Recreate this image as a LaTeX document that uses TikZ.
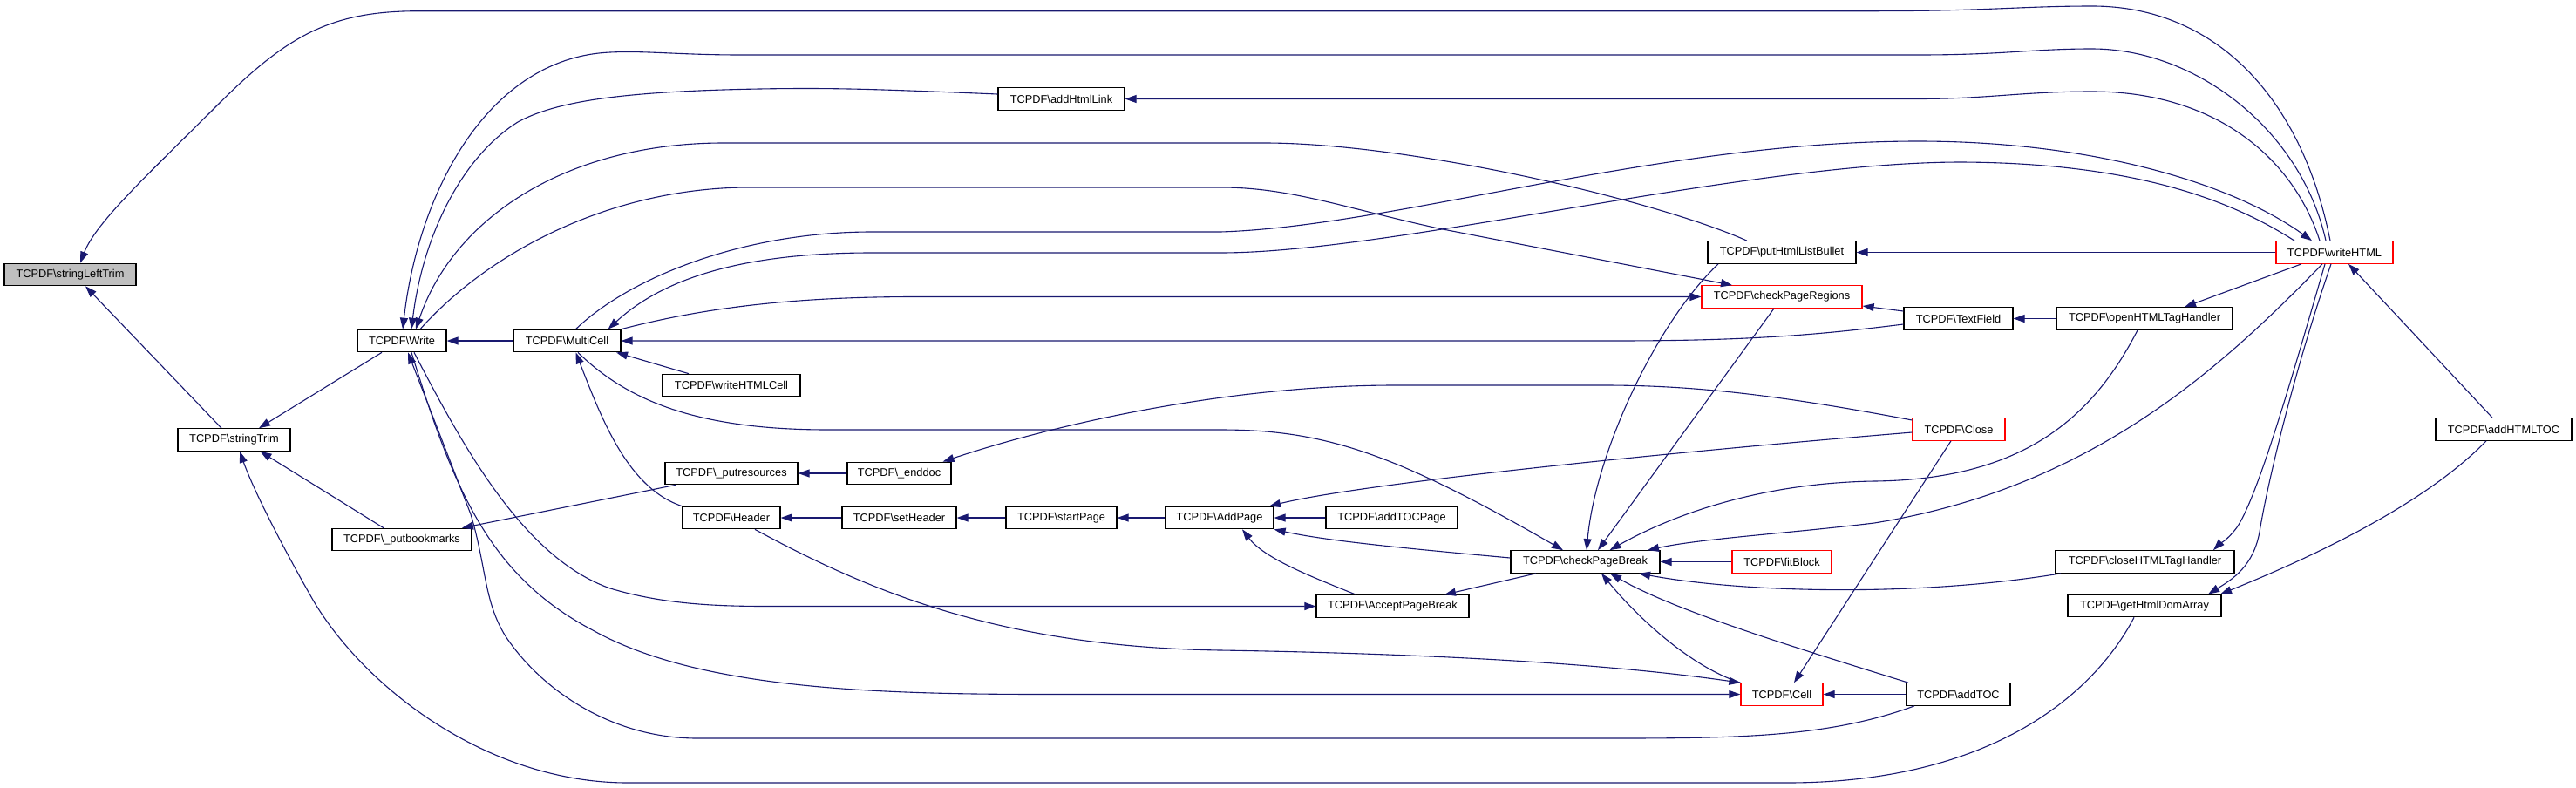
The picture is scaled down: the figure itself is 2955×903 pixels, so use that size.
\documentclass[tikz,border=0pt]{standalone}
\usepackage{fontspec}
\setmainfont{Liberation Sans}
\usetikzlibrary{arrows.meta}
\definecolor{navyedge}{HTML}{191970}
\definecolor{grayfill}{HTML}{BFBFBF}
\newcommand{\tbs}{\textbackslash}
\begin{document}
\begin{tikzpicture}[x=1pt,y=-1pt,
  fn/.style={draw=black, line width=1.2pt, fill=white, minimum height=25.5pt, inner sep=0pt, font=\fontsize{12.8}{14}\selectfont},
  fnred/.style={fn, draw=red},
  ce/.style={draw=navyedge, line width=1.1pt, -{Triangle[length=13pt,width=9pt]}, fill=none},
  ce/.append style={arrows={-{Triangle[length=13pt,width=9pt,fill=navyedge]}}}]
\path[use as bounding box, fill=white] (0,0) rectangle (2955,903);

% nodes
\node[fn, fill=grayfill, minimum width=151pt] (slt) at (80.5,315) {TCPDF\tbs stringLeftTrim};
\node[fn, minimum width=129pt] (st) at (268.5,504.5) {TCPDF\tbs stringTrim};
\node[fn, minimum width=102pt] (wr) at (461,391) {TCPDF\tbs Write};
\node[fn, minimum width=123pt] (mc) at (650.5,391) {TCPDF\tbs MultiCell};
\node[fn, minimum width=158pt] (whc) at (839,442) {TCPDF\tbs writeHTMLCell};
\node[fn, minimum width=160pt] (pbm) at (461,619) {TCPDF\tbs\_putbookmarks};
\node[fn, minimum width=152pt] (pres) at (839,543) {TCPDF\tbs\_putresources};
\node[fn, minimum width=119pt] (edoc) at (1031.5,543) {TCPDF\tbs\_enddoc};
\node[fn, minimum width=112pt] (hdr) at (839,594) {TCPDF\tbs Header};
\node[fn, minimum width=131pt] (shdr) at (1031.5,594) {TCPDF\tbs setHeader};
\node[fn, minimum width=127pt] (spg) at (1217.5,594) {TCPDF\tbs startPage};
\node[fn, minimum width=124pt] (apg) at (1399,594) {TCPDF\tbs AddPage};
\node[fn, minimum width=151pt] (atp) at (1596.5,594) {TCPDF\tbs addTOCPage};
\node[fn, minimum width=175pt] (apb) at (1597.5,695.5) {TCPDF\tbs AcceptPageBreak};
\node[fn, minimum width=171pt] (cpb) at (1818.5,644.5) {TCPDF\tbs checkPageBreak};
\node[fn, minimum width=145pt] (ahl) at (1217.5,113.5) {TCPDF\tbs addHtmlLink};
\node[fn, minimum width=170pt] (phlb) at (2044,289.5) {TCPDF\tbs putHtmlListBullet};
\node[fnred, minimum width=184pt] (cpr) at (2044,340.5) {TCPDF\tbs checkPageRegions};
\node[fn, minimum width=125pt] (tf) at (2246.5,365.5) {TCPDF\tbs TextField};
\node[fn, minimum width=202pt] (ohth) at (2460,365.5) {TCPDF\tbs openHTMLTagHandler};
\node[fnred, minimum width=134pt] (wh) at (2678,289.5) {TCPDF\tbs writeHTML};
\node[fnred, minimum width=106pt] (cls) at (2247,492.5) {TCPDF\tbs Close};
\node[fn, minimum width=156pt] (ahtoc) at (2872,492.5) {TCPDF\tbs addHTMLTOC};
\node[fnred, minimum width=114pt] (fit) at (2044,644.5) {TCPDF\tbs fitBlock};
\node[fn, minimum width=205pt] (chth) at (2460.5,644.5) {TCPDF\tbs closeHTMLTagHandler};
\node[fn, minimum width=176pt] (ghda) at (2460,695) {TCPDF\tbs getHtmlDomArray};
\node[fnred, minimum width=94pt] (cell) at (2044,796.5) {TCPDF\tbs Cell};
\node[fn, minimum width=119pt] (atoc) at (2246.5,796.5) {TCPDF\tbs addTOC};

% edges (caller -> callee)
\draw[ce] ([xshift=-14.5pt]st.north) -- ([xshift=17.5pt]slt.south);
\draw[ce] ([xshift=-5pt]wh.north) .. controls (2640,110) and (2540,7) .. (2400,7) .. controls (2320,7) and (2280,12.7) .. (2150,12.7) -- (480,12.7) .. controls (380,12.7) and (330,40) .. (250,120) .. controls (170,200) and (110,255) .. ([xshift=11.5pt]slt.north);
\draw[ce] ([xshift=-23pt]wr.south) -- ([xshift=28.5pt]st.north);
\draw[ce] ([xshift=-21pt]pbm.north) -- ([xshift=30pt]st.south);
\draw[ce] ([xshift=-12pt]ghda.south) .. controls (2400,800) and (2280,898) .. (2050,898) -- (720,898) .. controls (560,898) and (420,790) .. (360,690) .. controls (320,620) and (290,560) .. ([xshift=6.5pt]st.south);
\draw[ce] (mc.west) -- (wr.east);
\draw[ce] ([xshift=-10pt]wh.north) .. controls (2640,150) and (2520,56) .. (2400,56) .. controls (2330,56) and (2300,63) .. (2200,63) -- (850,63) .. controls (780,63) and (740,58) .. (700,60) .. controls (560,66) and (480,220) .. ([xshift=1pt]wr.north);
\draw[ce] ([yshift=5.5pt]ahl.west) .. controls (1000,102) and (960,101) .. (890,101.7) .. controls (720,104) and (640,115) .. (594,140) .. controls (530,180) and (485,270) .. ([xshift=11pt]wr.north);
\draw[ce] ([xshift=-40pt]phlb.north) .. controls (1900,230) and (1620,164) .. (1450,164) -- (830,164) .. controls (650,164) and (520,250) .. ([xshift=16pt]wr.north);
\draw[ce] ([xshift=21pt]wr.north) .. controls (560,290) and (700,215) .. (860,215) -- (1400,215) .. controls (1480,215) and (1540,238) .. (1650,262) -- ([xshift=-57pt]cpr.north);
\draw[ce] ([xshift=14pt]wr.south) .. controls (530,510) and (600,640) .. (700,675) .. controls (760,693) and (820,695.5) .. (880,695.5) -- (apb.west);
\draw[ce] ([xshift=11pt]wr.south) .. controls (520,560) and (560,660) .. (680,723) .. controls (800,790) and (1000,796.5) .. (1200,796.5) -- (cell.west);
\draw[ce] ([xshift=-50.5pt]atoc.south) .. controls (2100,845) and (2000,847) .. (1850,847) -- (800,847) .. controls (700,847) and (620,790) .. (580,730) .. controls (555,690) and (558,650) .. (540,590) -- ([xshift=7pt]wr.south);
\draw[ce] ([yshift=10.5pt]cls.west) .. controls (2050,455) and (1950,442) .. (1840,442) -- (1600,442) .. controls (1400,442) and (1200,490) .. ([xshift=50pt]edoc.north);
\draw[ce] ([yshift=-3.5pt]cls.west) .. controls (1900,520) and (1560,555) .. ([xshift=57pt]apg.north);
\draw[ce] ([xshift=-9pt]cls.south) -- ([xshift=14pt]cell.north);
\draw[ce] (edoc.west) -- (pres.east);
\draw[ce] ([xshift=-64pt]pres.south) -- ([xshift=69pt]pbm.north);
\draw[ce] (hdr.north west) .. controls (720,560) and (690,480) .. ([xshift=10pt]mc.south);
\draw[ce] ([xshift=27pt]hdr.south) .. controls (1000,680) and (1150,742) .. (1400,746) .. controls (1650,750) and (1850,762) .. (cell.north west);
\draw[ce] (shdr.west) -- (hdr.east);
\draw[ce] (spg.west) -- (shdr.east);
\draw[ce] (apg.west) -- (spg.east);
\draw[ce] (atp.west) -- (apg.east);
\draw[ce] ([xshift=-42pt]apb.north) .. controls (1500,660) and (1450,640) .. ([xshift=26pt]apg.south);
\draw[ce] ([yshift=4.5pt]cpb.west) .. controls (1600,628) and (1520,620) .. (apg.south east);
\draw[ce] ([xshift=-56.5pt]cpb.south) -- ([xshift=59.5pt]apb.north);
\draw[ce] ([xshift=12.5pt]mc.south) .. controls (720,460) and (800,493) .. (950,493) -- (1400,493) .. controls (1520,493) and (1600,520) .. ([xshift=-25.5pt]cpb.north);
\draw[ce] ([xshift=-9pt]cpr.south) -- ([xshift=14.5pt]cpb.north);
\draw[ce] ([xshift=-73pt]phlb.south) .. controls (1900,370) and (1830,520) .. ([xshift=1.5pt]cpb.north);
\draw[ce] ([xshift=-8pt]ohth.south) .. controls (2400,480) and (2320,550) .. (2150,552) .. controls (2020,554) and (1920,590) .. ([xshift=28pt]cpb.north);
\draw[ce] ([xshift=-14pt]wh.south) .. controls (2550,420) and (2400,560) .. (2150,600) .. controls (2050,612) and (1950,618) .. ([xshift=71.5pt]cpb.north);
\draw[ce] (fit.west) -- (cpb.east);
\draw[ce] ([xshift=-96.5pt]chth.south) .. controls (2200,685) and (2000,680) .. ([xshift=61.5pt]cpb.south);
\draw[ce] (cell.north west) .. controls (1940,765) and (1880,710) .. ([xshift=18.5pt]cpb.south);
\draw[ce] ([xshift=-57.5pt]atoc.north) .. controls (2050,740) and (1920,700) .. ([xshift=28.5pt]cpb.south);
\draw[ce] (atoc.west) -- (cell.east);
\draw[ce] ([xshift=-49pt]whc.north) -- ([xshift=56.5pt]mc.south);
\draw[ce] ([yshift=-6.5pt]tf.west) .. controls (2080,385) and (2000,391) .. (1850,391) -- (mc.east);
\draw[ce] ([yshift=8.5pt]tf.west) -- ([yshift=-10.5pt]cpr.east);
\draw[ce] (ohth.west) -- (tf.east);
\draw[ce] ([xshift=-38pt]wh.south) -- ([xshift=46pt]ohth.north);
\draw[ce] (wh.west) -- (phlb.east);
\draw[ce] ([xshift=-17pt]wh.north) .. controls (2630,180) and (2540,105) .. (2400,105) .. controls (2320,105) and (2280,113.5) .. (2200,113.5) -- (ahl.east);
\draw[ce] ([xshift=10pt]mc.north) .. controls (720,320) and (850,266) .. (1000,266) -- (1400,266) .. controls (1600,260) and (1900,162) .. (2200,162) .. controls (2400,162) and (2560,210) .. ([xshift=-26pt]wh.north);
\draw[ce] ([xshift=-46pt]wh.north) .. controls (2560,230) and (2450,187) .. (2250,186) .. controls (2000,186) and (1600,290) .. (1400,290) -- (1000,290) .. controls (850,290) and (760,320) .. ([xshift=47pt]mc.north);
\draw[ce] (mc.north east) .. controls (800,355) and (900,340.5) .. (1050,340.5) -- (cpr.west);
\draw[ce] ([xshift=-13pt]ahtoc.north) -- ([xshift=16pt]wh.south);
\draw[ce] ([xshift=-20pt]ahtoc.south) .. controls (2780,580) and (2650,640) .. ([xshift=87pt]ghda.north);
\draw[ce] ([xshift=-4pt]wh.south) .. controls (2630,430) and (2600,560) .. (2592,610) .. controls (2585,650) and (2560,665) .. ([xshift=73pt]ghda.north);
\draw[ce] ([xshift=-11pt]wh.south) .. controls (2630,430) and (2590,570) .. (2566,605) .. controls (2555,620) and (2545,625) .. ([xshift=78.5pt]chth.north);
\end{tikzpicture}
\end{document}
